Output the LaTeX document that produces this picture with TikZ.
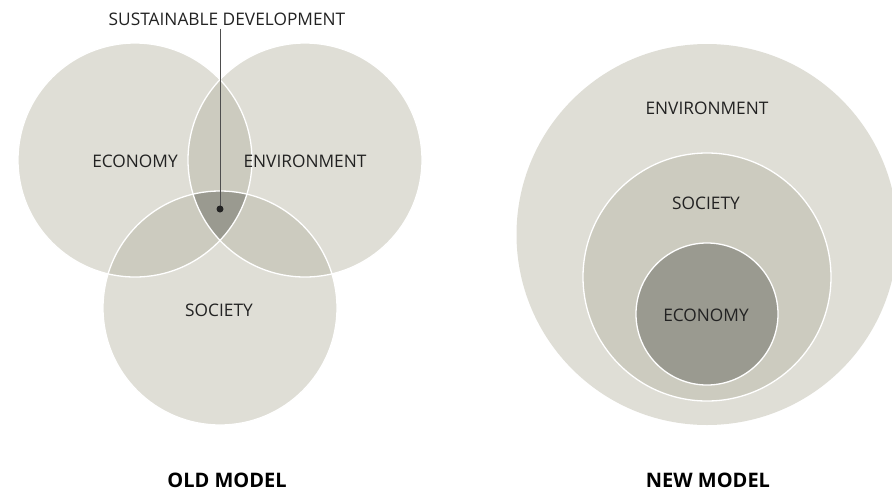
\documentclass[tikz,border=0pt]{standalone}
\usepackage{fontspec}
\setmainfont{Open Sans}
\usetikzlibrary{positioning}
\definecolor{pale}{HTML}{DFDED6}
\definecolor{mid}{HTML}{CCCBBF}
\definecolor{deep}{HTML}{9A9A90}
\definecolor{ink}{HTML}{222222}

\begin{document}
\begin{tikzpicture}[x=1pt,y=-1pt,
      label/.style={font=\fontsize{17.3}{20}\selectfont, text=ink},
      title/.style={font=\fontsize{20}{24}\selectfont\bfseries, text=black},
      rim/.style={draw=white, line width=1.3pt},
      pointer/.style={draw=ink!80, line width=0.9pt}
      ]
      \useasboundingbox (0,0) rectangle (892,491);
      \clip (0,0) rectangle (892,491);
      % old model: three circles
      \def\eco{(135,160) circle[radius=117]}
      \def\env{(305,160) circle[radius=117]}
      \def\soc{(220,308) circle[radius=117]}
      \fill[pale] \eco; \fill[pale] \env; \fill[pale] \soc;
      \begin{scope} \clip \eco; \fill[mid] \env; \fill[mid] \soc; \end{scope}
      \begin{scope} \clip \env; \fill[mid] \soc; \end{scope}
      \begin{scope} \clip \eco; \clip \env; \fill[deep] \soc; \end{scope}
      \draw[rim] \eco; \draw[rim] \env; \draw[rim] \soc;
      \node (oldeco) [label] at (135,161) {ECONOMY};
      \node (oldenv) [label] at (305,161) {ENVIRONMENT};
      \node (oldsoc) [label] at (219,310) {SOCIETY};
      \node (sustain) [label] at (227,19) {SUSTAINABLE DEVELOPMENT};
      \coordinate (core) at (220,209);
      \draw[pointer] (sustain.south -| core) -- (core);
      \fill[ink] (core) circle[radius=3.5];
      % new model: nested circles
      \fill[pale] (707,234.5) circle[radius=190.5];
      \filldraw[mid, rim] (707,277) circle[radius=124];
      \filldraw[deep, rim] (707,314) circle[radius=71];
      \node (newenv) [label] at (707,108) {ENVIRONMENT};
      \node (newsoc) [label] at (706,203) {SOCIETY};
      \node (neweco) [label] at (706,315) {ECONOMY};
      % captions
      \node (oldmodel) [title] at (227,480) {OLD MODEL};
      \node (newmodel) [title] at (708,480) {NEW MODEL};
    \end{tikzpicture}
\end{document}
